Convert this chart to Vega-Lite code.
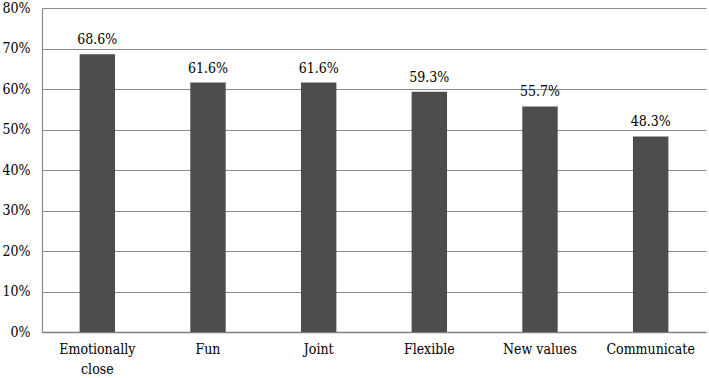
{
  "$schema": "https://vega.github.io/schema/vega-lite/v6.json",
  "autosize": {"type": "none"},
  "width": 664,
  "height": 324,
  "padding": {"left": 42, "top": 8, "right": 3, "bottom": 46},
  "background": "white",
  "data": {"values": [
    {"item": "Emotionally close", "value": 0.686},
    {"item": "Fun", "value": 0.616},
    {"item": "Joint", "value": 0.616},
    {"item": "Flexible", "value": 0.593},
    {"item": "New values", "value": 0.557},
    {"item": "Communicate", "value": 0.483}
  ]},
  "config": {
    "font": "DejaVu Serif Condensed",
    "view": {"stroke": null},
    "axis": {"labelFont": "DejaVu Serif Condensed", "labelColor": "#000"}
  },
  "encoding": {
    "x": {
      "field": "item", "type": "nominal", "sort": null, "title": null,
      "scale": {"paddingInner": 0.68, "paddingOuter": 0.34},
      "axis": {
        "labelAngle": 0, "labelFontSize": 14, "ticks": false, "labelPadding": 10,
        "domainColor": "#808080", "domainWidth": 1.5,
        "labelExpr": "datum.label == 'Emotionally close' ? ['Emotionally', 'close'] : datum.label",
        "labelLineHeight": 20
      }
    },
    "y": {
      "field": "value", "type": "quantitative", "title": null,
      "scale": {"domain": [0, 0.8], "nice": false},
      "axis": {
        "format": ".0%", "values": [0, 0.1, 0.2, 0.3, 0.4, 0.5, 0.6, 0.7, 0.8],
        "labelFontSize": 14, "ticks": false, "labelPadding": 12,
        "gridColor": "#8a8a8a", "gridWidth": 1.2,
        "domainColor": "#8a8a8a", "domainWidth": 1.2
      }
    }
  },
  "layer": [
    {"mark": {"type": "bar", "color": "#4d4d4d"}},
    {
      "mark": {"type": "text", "baseline": "bottom", "dy": -7, "fontSize": 14, "color": "#000", "font": "DejaVu Serif Condensed"},
      "encoding": {"text": {"field": "value", "type": "quantitative", "format": ".1%"}}
    }
  ]
}
